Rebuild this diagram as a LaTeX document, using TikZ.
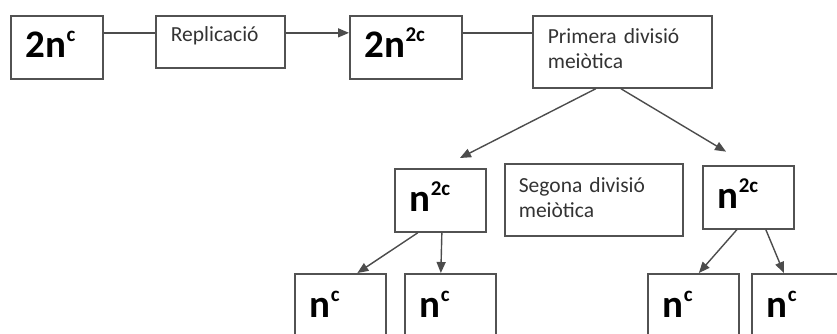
\documentclass[tikz,border=0pt]{standalone}
\usepackage{fontspec}
\setmainfont{Carlito}
\usetikzlibrary{arrows.meta}

\newcommand{\expo}[1]{\raisebox{16pt}{\fontsize{21}{21}\selectfont #1}}

\begin{document}
\begin{tikzpicture}[x=1pt, y=-1pt,
    bigbox/.style={draw=black!68, line width=1.7pt, anchor=north west, inner xsep=15pt, inner ysep=0pt,
        text height=43pt, text depth=20pt, align=left, text width=#1,
        font=\fontsize{39}{40}\selectfont\bfseries},
    txtbox/.style={draw=black!68, line width=1.7pt, anchor=north west, inner xsep=15pt, inner ysep=0pt,
        align=left, text width=#1, text=black!80, font=\fontsize{21.5}{25}\selectfont},
    link/.style={draw=black!70, line width=1.4pt},
    arr/.style={link, -{Triangle[length=11pt,width=9pt]}}]
    \useasboundingbox (0,0) rectangle (837,334);
    \clip (0,0) rectangle (837,334);

    % top row
    \node[bigbox=62pt, text height=42pt, text depth=21pt] (c1) at (10,15) {2n\expo{c}};
    \node[txtbox=99pt, text height=26pt, text depth=26pt] (rep) at (155,15) {Replicació};
    \node[bigbox=82pt, text height=42pt, text depth=21pt] (c2) at (349,15) {2n\expo{2c}};
    \node[txtbox=149pt, text height=28pt, text depth=44pt] (prim) at (532,15) {Primera divisió\\meiòtica};

    % second row
    \node[bigbox=61pt] (ln2) at (394,168) {n\expo{2c}};
    \node[txtbox=150pt, inner xsep=14pt, text height=29pt, text depth=43pt] (seg) at (504,163) {Segona divisió\\meiòtica};
    \node[bigbox=61pt] (rn2) at (702,165) {n\expo{2c}};

    % bottom row (cut off at the lower edge)
    \node[bigbox=61pt, text height=44pt, text depth=40pt] (b1) at (294,273) {n\expo{c}};
    \node[bigbox=61pt, text height=44pt, text depth=40pt] (b2) at (404,273) {n\expo{c}};
    \node[bigbox=61pt, text height=44pt, text depth=40pt] (b3) at (647,273) {n\expo{c}};
    \node[bigbox=61pt, text height=44pt, text depth=40pt] (b4) at (751,273) {n\expo{c}};

    % connectors
    \draw[link] ([yshift=14.5pt]c1.east) -- ([yshift=9pt]rep.west);
    \draw[arr] ([yshift=9pt]rep.east) -- ([yshift=14.5pt]c2.west);
    \draw[link] ([yshift=14.5pt]c2.east) -- ([yshift=19pt]prim.west);

    \draw[arr, shorten >=22pt] ([xshift=-26.5pt]prim.south) -- (ln2.north);
    \draw[arr, shorten >=26pt] ([xshift=-1.5pt]prim.south) -- (rn2.north);

    \draw[arr] ([xshift=-22.5pt]ln2.south) -- ([xshift=17pt]b1.north);
    \draw[arr] ([xshift=1.5pt]ln2.south) -- ([xshift=-9.5pt]b2.north);
    \draw[arr] ([xshift=-11.5pt]rn2.south) -- ([xshift=5.5pt]b3.north);
    \draw[arr] ([xshift=17.5pt]rn2.south) -- ([xshift=-13.5pt]b4.north);
\end{tikzpicture}
\end{document}
